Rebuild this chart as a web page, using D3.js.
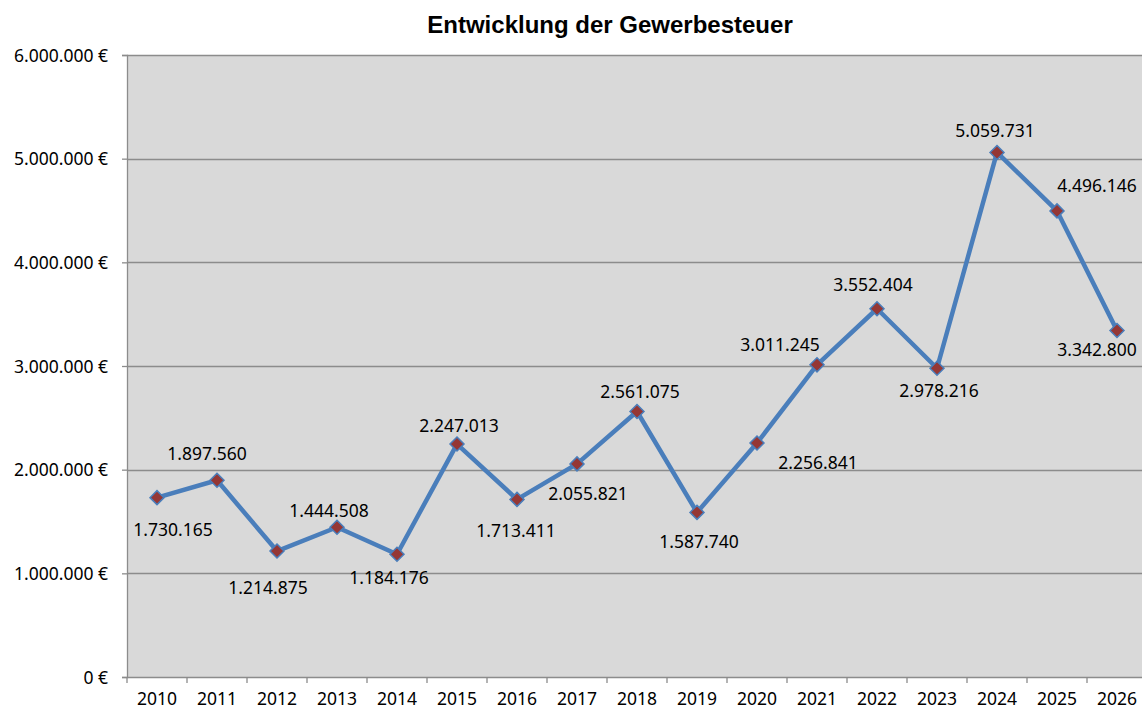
<!DOCTYPE html>
<html>
<head>
<meta charset="utf-8">
<script src="https://cdn.jsdelivr.net/npm/d3@7"></script>
<style>
  body { margin: 0; background: #fff; }
  text { font-family: "Noto Sans", sans-serif; fill: #000; }
</style>
</head>
<body>
<div id="chart"></div>
<script>
// Data
var years = ["2010", "2011", "2012", "2013", "2014", "2015", "2016", "2017", "2018",
             "2019", "2020", "2021", "2022", "2023", "2024", "2025", "2026"];
var revenue = [1730165, 1897560, 1214875, 1444508, 1184176, 2247013, 1713411, 2055821, 2561075,
               1587740, 2256841, 3011245, 3552404, 2978216, 5059731, 4496146, 3342800];
var yTicks = [0, 1000000, 2000000, 3000000, 4000000, 5000000, 6000000];

// where each data label sits relative to its point (dx, dy of the text centre)
var labelOffsets = [[16, 32], [-10, -26], [-9, 37], [-8, -16], [-8, 24], [2, -18], [-1, 31], [11, 30], [3, -20],
                    [2, 29], [61, 20], [-37, -20], [-4, -24], [2, 23], [-2, -22], [40, -25], [-20, 19]];

var width = 1142, height = 712,
    margin = { top: 55, left: 127, bottom: 35 },
    plotW = 60 * years.length,
    plotH = height - margin.top - margin.bottom;

var fmt = function (v) { return d3.format(",")(v).replace(/,/g, "."); };

var svg = d3.select("#chart").append("svg")
    .attr("width", width)
    .attr("height", height);

// title
svg.append("text")
    .attr("x", 610)
    .attr("y", 33)
    .attr("text-anchor", "middle")
    .style("font-family", "'Liberation Sans', Arial, sans-serif")
    .style("font-weight", "bold")
    .style("font-size", "24px")
    .text("Entwicklung der Gewerbesteuer");

var g = svg.append("g")
    .attr("transform", "translate(" + margin.left + "," + margin.top + ")");

var xScale = d3.scaleBand().domain(years).range([0, plotW]);
var yScale = d3.scaleLinear().domain([0, 6000000]).range([plotH, 0]);

// plot background
g.append("rect")
    .attr("width", plotW)
    .attr("height", plotH)
    .attr("fill", "#d9d9d9");

// grid lines
g.selectAll(".grid")
    .data(yTicks.slice(1))
    .enter().append("line")
    .attr("class", "grid")
    .attr("x1", 0)
    .attr("x2", plotW)
    .attr("y1", function (d) { return Math.round(yScale(d)) + 0.5; })
    .attr("y2", function (d) { return Math.round(yScale(d)) + 0.5; })
    .attr("stroke", "#8c8c8c")
    .attr("stroke-width", 1.3);

// y axis
var yAxis = d3.axisLeft(yScale)
    .tickValues(yTicks)
    .tickSize(5)
    .tickPadding(14)
    .tickFormat(function (d) { return fmt(d) + " €"; });
var yg = g.append("g").call(yAxis);
yg.select(".domain").attr("stroke", "#8c8c8c").attr("stroke-width", 1.3);
yg.selectAll(".tick line").attr("stroke", "#8c8c8c").attr("stroke-width", 1.3);
yg.selectAll(".tick text").style("font-size", "17.5px").attr("dy", "0.35em");

// x axis, ticks between categories
var xAxis = d3.axisBottom(xScale).tickSize(0).tickPadding(16);
var xg = g.append("g")
    .attr("transform", "translate(0," + plotH + ")")
    .call(xAxis);
xg.select(".domain").attr("stroke", "#8c8c8c").attr("stroke-width", 1.3);
xg.selectAll(".tick text").style("font-size", "17.5px");
xg.selectAll(".sep")
    .data(years)
    .enter().append("line")
    .attr("class", "sep")
    .attr("x1", function (d) { return xScale(d); })
    .attr("x2", function (d) { return xScale(d); })
    .attr("y1", 0)
    .attr("y2", 6)
    .attr("stroke", "#8c8c8c")
    .attr("stroke-width", 1.3);

var xMap = function (d, i) { return xScale(years[i]) + xScale.bandwidth() / 2; },
    yMap = function (d) { return yScale(d); };

// line
g.append("path")
    .datum(revenue)
    .attr("fill", "none")
    .attr("stroke", "#4a7ebb")
    .attr("stroke-width", 4.5)
    .attr("stroke-linejoin", "round")
    .attr("d", d3.line().x(xMap).y(yMap));

// markers
g.selectAll(".dot")
    .data(revenue)
    .enter().append("path")
    .attr("class", "dot")
    .attr("d", "M0,-7L7,0L0,7L-7,0Z")
    .attr("transform", function (d, i) { return "translate(" + xMap(d, i) + "," + yMap(d) + ")"; })
    .attr("fill", "#953735")
    .attr("stroke", "#4a7ebb")
    .attr("stroke-width", 1.5);

// data labels
g.selectAll(".lbl")
    .data(revenue)
    .enter().append("text")
    .attr("class", "lbl")
    .attr("x", function (d, i) { return xMap(d, i) + labelOffsets[i][0]; })
    .attr("y", function (d, i) { return yMap(d) + labelOffsets[i][1]; })
    .attr("text-anchor", "middle")
    .attr("dy", "0.35em")
    .style("font-size", "17.5px")
    .text(fmt);
</script>
</body>
</html>
